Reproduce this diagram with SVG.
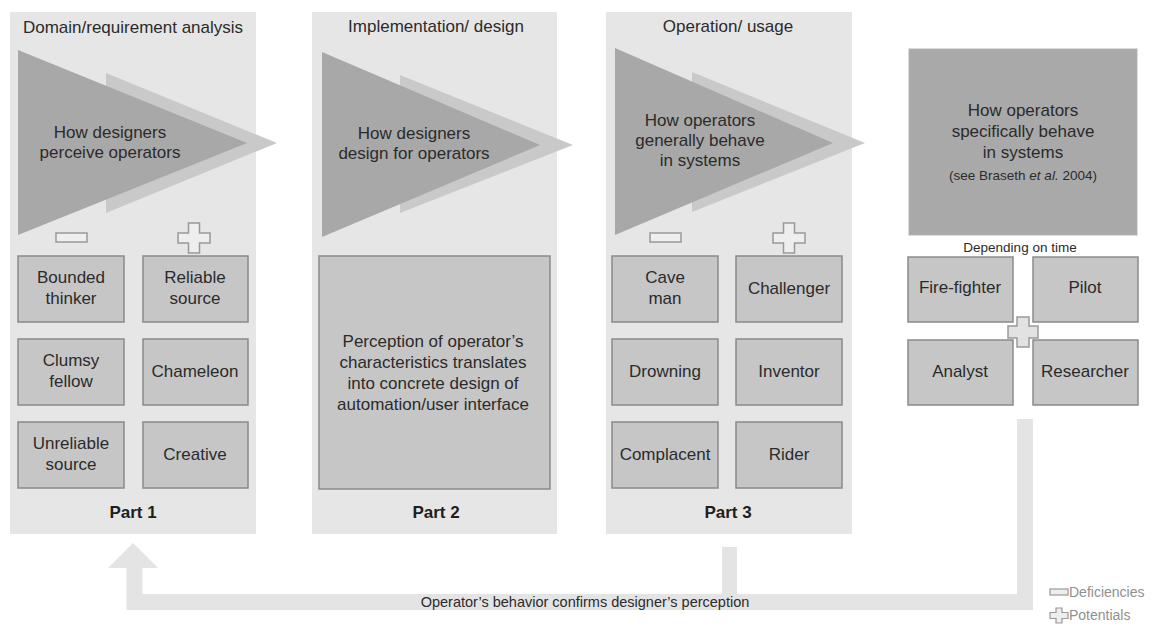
<svg xmlns="http://www.w3.org/2000/svg" width="1155" height="626" viewBox="0 0 1155 626">
  <style>
    text { font-family: "Liberation Sans", Arial, sans-serif; fill: #2b2b2b; }
    .hdr { font-size: 17px; text-anchor: middle; }
    .tri { font-size: 17px; text-anchor: middle; }
    .lbl { font-size: 17px; text-anchor: middle; }
    .part { font-size: 17px; font-weight: bold; text-anchor: middle; fill: #1e1e1e; }
    .small { font-size: 13.5px; text-anchor: middle; }
    .legend { font-size: 14px; fill: #8f8f8f; }
    .panel { fill: #e6e6e6; }
    .dark { fill: #a8a8a8; }
    .light { fill: #c9c9c9; }
    .box { fill: #c6c6c6; stroke: #8a8a8a; stroke-width: 1.5; }
    .icon { fill: #eeeeee; stroke: #999999; stroke-width: 1.5; }
    .bar { fill: none; stroke: #e4e4e4; stroke-linejoin: miter; stroke-linecap: butt; }
  </style>
  <defs>
    <!-- cross used for the "potentials" marks, centred on the origin -->
    <path id="plus" d="M-5.5,-15 H5.5 V-5 H16 V5 H5.5 V15 H-5.5 V5 H-16 V-5 H-5.5 Z"/>
  </defs>

  <rect width="1155" height="626" fill="#ffffff"/>

  <!-- Part 1: domain / requirement analysis -->
  <g id="part1">
    <rect class="panel" x="10" y="12" width="246" height="522"/>
    <text class="hdr" x="133" y="33">Domain/requirement analysis</text>
    <polygon class="light" points="106,73 277,143 106,213"/>
    <polygon class="dark" points="18,50 247,143 18,235"/>
    <text class="tri" x="110" y="138">How designers</text>
    <text class="tri" x="110" y="158">perceive operators</text>
    <rect class="icon" x="56" y="233" width="31" height="9"/>
    <use href="#plus" class="icon" transform="translate(194,238)"/>
    <g id="bounded-thinker">
      <rect class="box" x="18" y="256" width="106" height="66"/>
      <text class="lbl" x="71" y="283">Bounded</text>
      <text class="lbl" x="71" y="304">thinker</text>
    </g>
    <g id="reliable-source">
      <rect class="box" x="143" y="256" width="105" height="66"/>
      <text class="lbl" x="195" y="283">Reliable</text>
      <text class="lbl" x="195" y="304">source</text>
    </g>
    <g id="clumsy-fellow">
      <rect class="box" x="18" y="339" width="106" height="66"/>
      <text class="lbl" x="71" y="366">Clumsy</text>
      <text class="lbl" x="71" y="387">fellow</text>
    </g>
    <g id="chameleon">
      <rect class="box" x="143" y="339" width="105" height="66"/>
      <text class="lbl" x="195" y="377">Chameleon</text>
    </g>
    <g id="unreliable-source">
      <rect class="box" x="18" y="422" width="106" height="66"/>
      <text class="lbl" x="71" y="449">Unreliable</text>
      <text class="lbl" x="71" y="470">source</text>
    </g>
    <g id="creative">
      <rect class="box" x="143" y="422" width="105" height="66"/>
      <text class="lbl" x="195" y="460">Creative</text>
    </g>
    <text class="part" x="133" y="518">Part 1</text>
  </g>

  <!-- Part 2: implementation / design -->
  <g id="part2">
    <rect class="panel" x="312" y="12" width="245" height="522"/>
    <text class="hdr" x="436" y="32">Implementation/ design</text>
    <polygon class="light" points="400,75 573,145 400,213"/>
    <polygon class="dark" points="322,52 540,145 322,237"/>
    <text class="tri" x="414" y="139">How designers</text>
    <text class="tri" x="414" y="159">design for operators</text>
    <g id="design-translation">
      <rect class="box" x="319" y="256" width="231" height="233"/>
      <text class="lbl" x="433" y="347">Perception of operator’s</text>
      <text class="lbl" x="433" y="368">characteristics translates</text>
      <text class="lbl" x="433" y="389">into concrete design of</text>
      <text class="lbl" x="433" y="410">automation/user interface</text>
    </g>
    <text class="part" x="436" y="518">Part 2</text>
  </g>

  <!-- Part 3: operation / usage -->
  <g id="part3">
    <rect class="panel" x="606" y="12" width="246" height="522"/>
    <text class="hdr" x="728" y="32">Operation/ usage</text>
    <polygon class="light" points="692,72 865,143 692,212"/>
    <polygon class="dark" points="615,48 833,143 615,235"/>
    <text class="tri" x="700" y="126">How operators</text>
    <text class="tri" x="700" y="146">generally behave</text>
    <text class="tri" x="700" y="166">in systems</text>
    <rect class="icon" x="650" y="233" width="31" height="9"/>
    <use href="#plus" class="icon" transform="translate(789,238)"/>
    <g id="cave-man">
      <rect class="box" x="612" y="256" width="106" height="66"/>
      <text class="lbl" x="665" y="283">Cave</text>
      <text class="lbl" x="665" y="304">man</text>
    </g>
    <g id="challenger">
      <rect class="box" x="736" y="256" width="106" height="66"/>
      <text class="lbl" x="789" y="294">Challenger</text>
    </g>
    <g id="drowning">
      <rect class="box" x="612" y="339" width="106" height="66"/>
      <text class="lbl" x="665" y="377">Drowning</text>
    </g>
    <g id="inventor">
      <rect class="box" x="736" y="339" width="106" height="66"/>
      <text class="lbl" x="789" y="377">Inventor</text>
    </g>
    <g id="complacent">
      <rect class="box" x="612" y="422" width="106" height="66"/>
      <text class="lbl" x="665" y="460">Complacent</text>
    </g>
    <g id="rider">
      <rect class="box" x="736" y="422" width="106" height="66"/>
      <text class="lbl" x="789" y="460">Rider</text>
    </g>
    <text class="part" x="728" y="518">Part 3</text>
  </g>

  <!-- Specific operator behaviour -->
  <g id="specific-behaviour">
    <rect x="909" y="49" width="228" height="186" fill="#a9a9a9" stroke="#b3b3b3" stroke-width="1"/>
    <text class="tri" x="1023" y="116">How operators</text>
    <text class="tri" x="1023" y="137">specifically behave</text>
    <text class="tri" x="1023" y="158">in systems</text>
    <text class="small" x="1023" y="180">(see Braseth <tspan font-style="italic">et al.</tspan>  2004)</text>
    <text class="small" x="1020" y="252" font-size="14">Depending on time</text>
  </g>
  <g id="fire-fighter">
    <rect class="box" x="908" y="257" width="105" height="65"/>
    <text class="lbl" x="960" y="293">Fire-fighter</text>
  </g>
  <g id="pilot">
    <rect class="box" x="1033" y="257" width="105" height="65"/>
    <text class="lbl" x="1085" y="293">Pilot</text>
  </g>
  <g id="analyst">
    <rect class="box" x="908" y="340" width="105" height="65"/>
    <text class="lbl" x="960" y="377">Analyst</text>
  </g>
  <g id="researcher">
    <rect class="box" x="1033" y="340" width="105" height="65"/>
    <text class="lbl" x="1085" y="377">Researcher</text>
  </g>
  <path d="M-6,-15 H6 V-6 H15 V6 H6 V15 H-6 V6 H-15 V-6 H-6 Z" transform="translate(1023,332)" fill="#e2e2e2" stroke="#9a9a9a" stroke-width="1.5"/>

  <!-- Feedback loop back to part 1 -->
  <g id="connectors">
    <path class="bar" stroke-width="16" d="M1025,419 V602 H134.5 V566"/>
    <line class="bar" stroke-width="15" x1="729.5" y1="547" x2="729.5" y2="596"/>
    <polygon points="108,568 133,543 158,568" fill="#e4e4e4"/>
    <text x="585" y="607" font-size="14.5" text-anchor="middle">Operator’s behavior confirms designer’s perception</text>
  </g>

  <!-- Legend -->
  <g id="legend">
    <rect x="1050" y="589" width="18" height="6" fill="#eeeeee" stroke="#999999" stroke-width="1.2"/>
    <text class="legend" x="1069" y="597">Deficiencies</text>
    <path d="M-3,-7.5 H3 V-3 H9 V3 H3 V7.5 H-3 V3 H-9 V-3 H-3 Z" transform="translate(1059,615.5)" fill="#eeeeee" stroke="#999999" stroke-width="1.2"/>
    <text class="legend" x="1069" y="620">Potentials</text>
  </g>
</svg>
